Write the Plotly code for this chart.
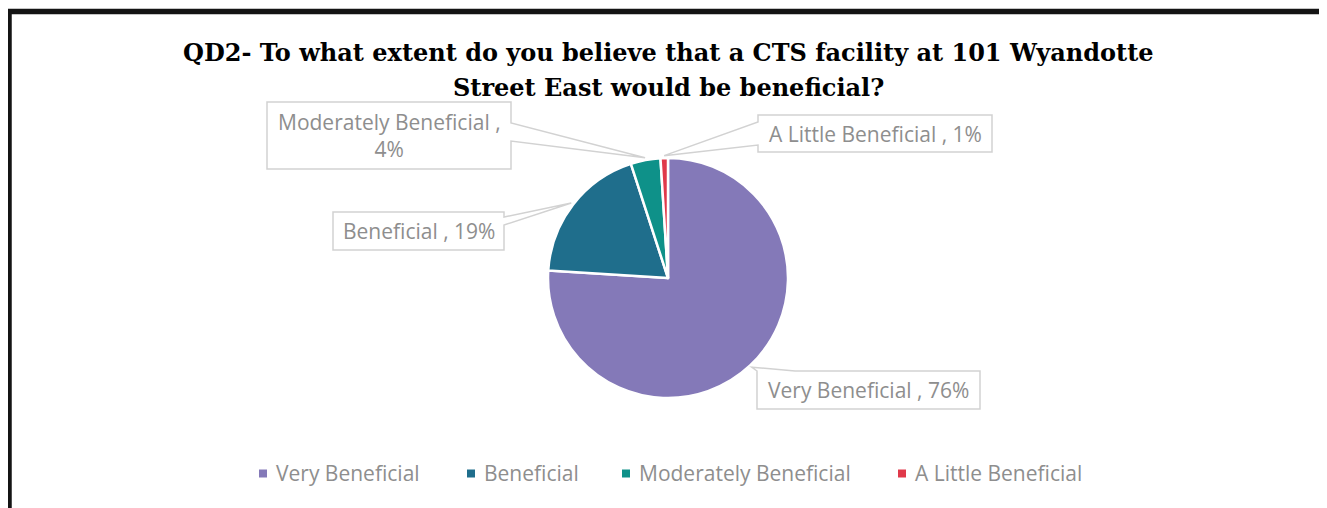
import math
import plotly.graph_objects as go

# ---- data ----
categories = ["Very Beneficial", "Beneficial", "Moderately Beneficial", "A Little Beneficial"]
percentages = [76, 19, 4, 1]
colors = ["#8479B8", "#1F6E8C", "#0E9189", "#E0394A"]
title_lines = ["QD2- To what extent do you believe that a CTS facility at 101 Wyandotte",
               "Street East would be beneficial?"]

# ---- layout constants (page pixels) ----
PAGE_W, PAGE_H = 1327, 508
OFF = 8                      # default page margin around the plot div
W, H = PAGE_W - OFF, PAGE_H - OFF
CX, CY, R = 668, 278, 120
LABEL_COLOR = "#8E8E8E"
LINE_COLOR = "#D2D2D2"
FONT = "'Open Sans', 'Noto Sans', sans-serif"
FS = 21
TITLE_Y = [53, 87]

# callout boxes: (x0, y0, x1, y1), side of wedge, wedge base (a, b), two lines
callouts = [
    ((757, 371, 980, 409), "top", (757, 795), False),
    ((333, 212, 504, 250), "right", (217, 225), False),
    ((267, 102, 511, 169), "right", (123, 141), True),
    ((758, 115, 992, 152), "left", (122, 145), False),
]
legend_symbol_x = [259, 467, 622, 898]
LEGEND_Y = 473.5
SYM = 8


def px(x):
    return (x - OFF) / W


def py(y):
    return 1 - (y - OFF) / H


fig = go.Figure()
fig.add_trace(go.Pie(
    labels=categories, values=percentages, sort=False,
    direction="clockwise", rotation=0,
    marker=dict(colors=colors, line=dict(color="white", width=2.5)),
    textinfo="none", hoverinfo="label+percent", showlegend=False,
    domain=dict(x=[px(CX - R), px(CX + R)], y=[py(CY + R), py(CY - R)]),
))

shapes = []
annotations = []

# outer black frame
shapes.append(dict(type="rect", xref="paper", yref="paper",
                   x0=px(9), x1=px(1325.5), y0=py(560), y1=py(11.5),
                   line=dict(color="#141414", width=5.5), fillcolor="rgba(0,0,0,0)", layer="above"))

total = sum(percentages)
cum = 0
for i, (cat, v) in enumerate(zip(categories, percentages)):
    mid = (cum + v / 2) / total * 2 * math.pi
    cum += v
    tx = CX + R * 1.02 * math.sin(mid)
    ty = CY - R * 1.02 * math.cos(mid)
    (x0, y0, x1, y1), side, (a, b), two_lines = callouts[i]
    if side == "top":
        pts = [(x0, y0), (a, y0), (tx, ty), (b, y0), (x1, y0), (x1, y1), (x0, y1)]
    elif side == "right":
        pts = [(x0, y0), (x1, y0), (x1, a), (tx, ty), (x1, b), (x1, y1), (x0, y1)]
    else:  # left
        pts = [(x0, y0), (x1, y0), (x1, y1), (x0, y1), (x0, b), (tx, ty), (x0, a)]
    path = "M " + " L ".join(f"{px(x):.5f},{py(y):.5f}" for x, y in pts) + " Z"
    shapes.append(dict(type="path", xref="paper", yref="paper", path=path,
                       line=dict(color=LINE_COLOR, width=1.5), fillcolor="white", layer="above"))
    sep = "<br>" if two_lines else " "
    annotations.append(dict(
        x=px((x0 + x1) / 2), y=py((y0 + y1) / 2), xref="paper", yref="paper",
        text=f"{cat} ,{sep}{v}%", showarrow=False, xanchor="center", yanchor="middle",
        font=dict(family=FONT, size=FS, color=LABEL_COLOR), align="center"))

    # legend entry
    sx = legend_symbol_x[i]
    shapes.append(dict(type="rect", xref="paper", yref="paper",
                       x0=px(sx), x1=px(sx + SYM), y0=py(LEGEND_Y + SYM / 2), y1=py(LEGEND_Y - SYM / 2),
                       line=dict(width=0), fillcolor=colors[i], layer="above"))
    annotations.append(dict(
        x=px(sx + 15), y=py(LEGEND_Y - 1), xref="paper", yref="paper",
        text=cat, showarrow=False, xanchor="left", yanchor="middle",
        font=dict(family=FONT, size=FS, color=LABEL_COLOR)))

for line, ty in zip(title_lines, TITLE_Y):
    annotations.append(dict(
        x=px(668), y=py(ty), xref="paper", yref="paper",
        text=f"<b>{line}</b>", showarrow=False,
        xanchor="center", yanchor="middle", align="center",
        font=dict(family="'DejaVu Serif', serif", size=24, color="black")))

fig.update_layout(
    width=W, height=H, autosize=False,
    margin=dict(l=0, r=0, t=0, b=0),
    paper_bgcolor="white", plot_bgcolor="white",
    shapes=shapes, annotations=annotations,
    showlegend=False,
)

fig.write_html("out.html")
